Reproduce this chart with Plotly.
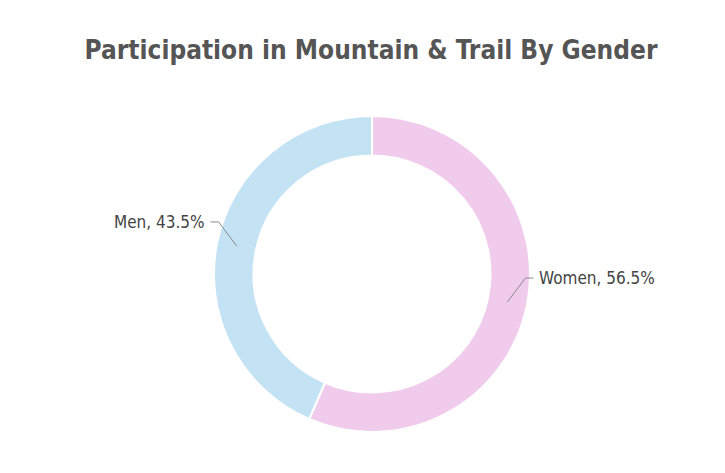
import math
import plotly.graph_objects as go

title = "Participation in Mountain & Trail By Gender"
labels = ["Women", "Men"]
values = [56.5, 43.5]
colors = ["#F0CBEC", "#C3E3F4"]

# page has an 8px body margin; build the figure in page coordinates minus 8
OFF = 8
W, H = 725 - 2 * OFF, 473 - 2 * OFF
# target page geometry: centre (372, 274), outer radius 158
PCX, PCY, PR = 372, 274, 158
CX, CY = PCX - OFF, PCY - OFF
MT = CY - PR
MB = H - (CY + PR)
ML = 40
PW = 2 * (CX - ML)
MR = W - ML - PW
PH = 2 * PR
R = PR
HOLE = 0.75

def to_paper(px, py):
    return (px - ML) / PW, (H - MB - py) / PH

fig = go.Figure(go.Pie(
    labels=labels, values=values, sort=False, direction="clockwise", rotation=0,
    hole=HOLE, marker=dict(colors=colors, line=dict(color="white", width=2)),
    textinfo="none", hoverinfo="label+percent", showlegend=False,
))

font_lbl = "DejaVu Sans Condensed, Liberation Sans Narrow, sans-serif"
shapes, annots = [], []
total = sum(values)
cum = 0
rmid = R * (1 + HOLE) / 2
for lab, v in zip(labels, values):
    mid = (cum + v / 2) / total * 2 * math.pi
    cum += v
    sx, sy = CX + rmid * math.sin(mid), CY - rmid * math.cos(mid)
    side = 1 if math.sin(mid) >= 0 else -1
    ex, ey = sx + side * 18, sy - 24
    hx = ex + side * 8
    path = "M {} {} L {} {} L {} {}".format(*to_paper(sx, sy), *to_paper(ex, ey), *to_paper(hx, ey))
    shapes.append(dict(type="path", xref="paper", yref="paper", path=path,
                       line=dict(color="#8a8a8a", width=1)))
    tx, ty = to_paper(hx + side * 4, ey)
    annots.append(dict(x=tx, y=ty, xref="paper", yref="paper", showarrow=False,
                       text=f"{lab}, {v}%", xanchor="left" if side > 0 else "right",
                       yanchor="middle",
                       font=dict(family=font_lbl, size=17, color="#444444")))

fig.update_layout(
    width=W, height=H,
    margin=dict(l=ML, r=MR, t=MT, b=MB),
    paper_bgcolor="white", plot_bgcolor="white",
    title=dict(text=f"<b>{title}</b>", x=(371 - OFF) / W, xanchor="center",
               y=1 - (50 - OFF) / H, yanchor="middle",
               font=dict(family="DejaVu Sans Condensed, Liberation Sans Narrow, sans-serif",
                         size=26, color="#555555")),
    shapes=shapes, annotations=annots,
)
fig.write_html("out.html")
